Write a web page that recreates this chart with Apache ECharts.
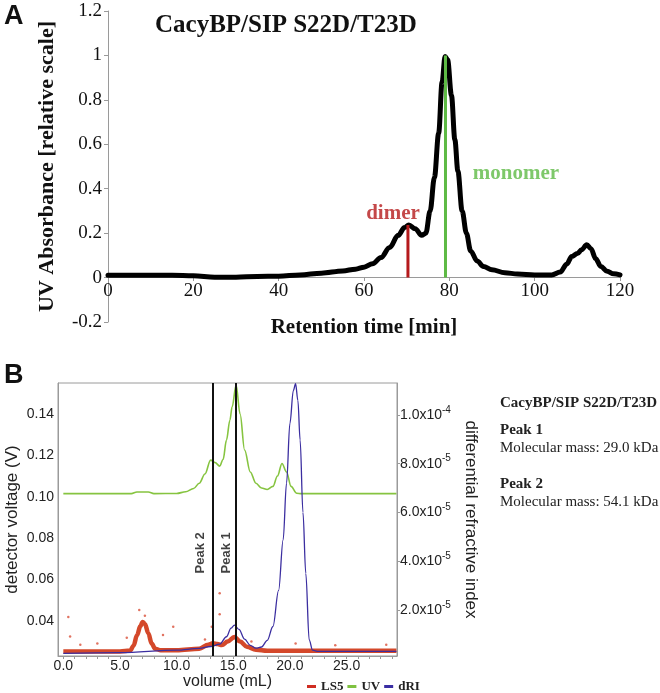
<!DOCTYPE html>
<html>
<head>
<meta charset="utf-8">
<script src="https://cdn.jsdelivr.net/npm/echarts@6/dist/echarts.min.js"></script>
<style>
html,body{margin:0;padding:0;background:#fff;}
#chart{width:660px;height:693px;}
</style>
</head>
<body>
<div id="chart"></div>
<script>
// ---------- Panel A: UV absorbance vs retention time ----------
const aTime = [0,5,10,15,20,25,30,35,40,45,50,55,58,60,62,64,66,68,69.5,70.5,72,73.5,74.5,75.5,76.5,77.5,78.3,79,79.6,80.5,81.3,82,83,84,85,86.5,88,90,93,96,100,104,106,107.5,108.7,110,111,112.2,113.2,114.3,115.5,117,118.5,120];
const aAbs  = [0.01,0.01,0.01,0.01,0.008,0.002,0.002,0.005,0.006,0.012,0.02,0.03,0.038,0.047,0.062,0.09,0.135,0.19,0.225,0.237,0.22,0.19,0.2,0.3,0.45,0.65,0.88,0.995,0.98,0.82,0.62,0.48,0.3,0.2,0.12,0.075,0.05,0.035,0.022,0.016,0.012,0.012,0.025,0.06,0.095,0.108,0.125,0.148,0.13,0.085,0.05,0.028,0.017,0.012];
const dimerTime = 70.3, dimerPeak = 0.237;
const monomerTime = 79.1, monomerPeak = 1.0;
const aLabels = [
  {name:'dimer', t:66.8, v:0.289, color:'#b51a1c'},
  {name:'monomer', t:95.6, v:0.47, color:'#5eba45'}
];

// ---------- Panel B: SEC-MALS traces vs volume ----------
const uvVol = [0,6.0,6.5,7.5,8.0,10.0,10.8,11.5,12.0,12.5,13.0,13.4,13.8,14.1,14.4,14.7,14.9,15.25,15.6,16.0,16.5,17.0,17.5,18.0,18.5,18.9,19.3,19.7,20.1,20.6,21.0,29.4];
const uvVal = [0.1015,0.1015,0.1023,0.1023,0.1015,0.1016,0.1024,0.104,0.1065,0.111,0.1177,0.1165,0.1148,0.118,0.1274,0.137,0.1435,0.154,0.14,0.1226,0.112,0.1065,0.1042,0.1035,0.105,0.11,0.1161,0.112,0.105,0.1017,0.1015,0.1015];

const driVol = [0,5,10,12,13,13.8,14.4,14.8,15.1,15.5,16,16.5,17,17.5,18,18.5,19,19.4,19.7,20.0,20.3,20.5,20.7,20.9,21.15,21.4,21.7,22.0,22.5,29.4];
const driVal = [2.2e-6,2.5e-6,3.5e-6,4.2e-6,5e-6,6e-6,9e-6,1.25e-5,1.38e-5,1.2e-5,8e-6,5.5e-6,4.3e-6,4.8e-6,7.5e-6,1.32e-5,2.8e-5,4.87e-5,7.2e-5,9.66e-5,1.1e-4,1.128e-4,1.06e-4,8.97e-5,6e-5,3.5e-5,7.7e-6,3.5e-6,3e-6,3e-6];

const lsVol = [0,5,5.9,6.2,6.5,6.8,7.0,7.2,7.5,7.8,8.1,8.6,10,12,12.8,13.2,13.6,14.0,14.5,15.1,15.6,16.2,17,18,29.4];
const lsVal = [0.0252,0.0252,0.0256,0.028,0.033,0.0375,0.0395,0.0385,0.034,0.029,0.0265,0.0258,0.0258,0.0265,0.0285,0.0292,0.0288,0.0283,0.030,0.0322,0.030,0.0275,0.026,0.0255,0.0255];
const lsOutVol = [0.44,0.6,5.6,6.7,8.8,9.7,13.1,13.8,13.8,3.0,12.5,16.6,20.5,28.5,7.2,1.5,24.0];
const lsOutVal = [0.0418,0.0324,0.0318,0.0453,0.0332,0.0372,0.0372,0.0534,0.0432,0.029,0.031,0.030,0.029,0.0285,0.0425,0.0285,0.0282];

const peakLines = [{name:'Peak 2', vol:13.18}, {name:'Peak 1', vol:15.2}];
const peakLabelPos = [{name:'Peak 2', vol:12.06, v:0.0729}, {name:'Peak 1', vol:14.42, v:0.0729}];

const bXLabels = [0,5,10,15,20,25];
const bXTicks = [0,1,2,3,4,5,6,7,8,9,10,11,12,13,14,15,16,17,18,19,20,21,22,23,24,25,26,27,28,29];
const bLeftTicks = [0.04,0.06,0.08,0.10,0.12,0.14];
const bRightTicks = [2e-5,4e-5,6e-5,8e-5,1e-4];

const infoLines = [
  {text:'CacyBP/SIP S22D/T23D', bold:true},
  {text:'Peak 1', bold:true},
  {text:'Molecular mass: 29.0 kDa', bold:false},
  {text:'Peak 2', bold:true},
  {text:'Molecular mass: 54.1 kDa', bold:false}
];

const zip = (xs, ys) => xs.map((x, i) => [x, ys[i]]);
const SERIF = 'Liberation Serif';
const SANS = 'Liberation Sans';
const GRAY = '#9a9a9a';

const chart = echarts.init(document.getElementById('chart'), null, {renderer:'canvas'});

const infoY = [405, 432, 450, 486, 504];

const option = {
  animation: false,
  backgroundColor: '#ffffff',
  title: {
    text: 'CacyBP/SIP S22D/T23D',
    left: 150, top: 8,
    textStyle: {fontFamily: SERIF, fontWeight: 'bold', fontSize: 25, color: '#111'}
  },
  legend: {
    data: ['LS5', 'UV', 'dRI'],
    left: 302, top: 675,
    icon: 'rect', itemWidth: 9, itemHeight: 3, itemGap: 4,
    textStyle: {fontFamily: SERIF, fontWeight: 'bold', fontSize: 13, color: '#222'}
  },
  grid: [
    {left: 108, top: 11, width: 512, height: 311, outerBoundsMode: 'none'},
    {left: 58, top: 383, width: 339, height: 273, show: true, borderColor: GRAY, borderWidth: 1, backgroundColor: '#fff', outerBoundsMode: 'none'},
    {left: 108, top: 11, width: 512, height: 266, outerBoundsMode: 'none'}
  ],
  xAxis: [
    {
      gridIndex: 0, type: 'value', min: 0, max: 120, interval: 20, show: false,
      splitLine: {show: false}
    },
    {
      gridIndex: 1, type: 'value', min: -0.47, max: 29.45,
      axisLine: {onZero: false, lineStyle: {color: GRAY, width: 1}},
      axisTick: {customValues: bXTicks, length: 3, lineStyle: {color: GRAY}},
      splitLine: {show: false},
      axisLabel: {customValues: bXLabels, formatter: v => v.toFixed(1), color: '#222', fontFamily: SANS, fontSize: 14, margin: 3},
      name: 'volume (mL)', nameLocation: 'middle', nameGap: 18,
      nameTextStyle: {fontFamily: SANS, fontSize: 16, color: '#222'}
    },
    {
      gridIndex: 2, type: 'value', min: 0, max: 120, interval: 20,
      axisLine: {onZero: false, lineStyle: {color: GRAY, width: 1}},
      axisTick: {length: 4, lineStyle: {color: GRAY}},
      splitLine: {show: false},
      axisLabel: {color: '#111', fontFamily: SERIF, fontSize: 19, margin: 5},
      name: 'Retention time [min]', nameLocation: 'middle', nameGap: 40,
      nameTextStyle: {fontFamily: SERIF, fontWeight: 'bold', fontSize: 21, color: '#111'}
    }
  ],
  yAxis: [
    {
      gridIndex: 0, type: 'value', min: -0.2, max: 1.2, interval: 0.2,
      axisLine: {show: true, onZero: false, lineStyle: {color: GRAY, width: 1}},
      axisTick: {show: true, length: 4, lineStyle: {color: GRAY}},
      splitLine: {show: false},
      axisLabel: {color: '#111', fontFamily: SERIF, fontSize: 19, margin: 6},
      name: 'UV Absorbance [relative scale]', nameLocation: 'middle', nameGap: 50, nameRotate: 90,
      nameTextStyle: {fontFamily: SERIF, fontWeight: 'bold', fontSize: 22, color: '#111'}
    },
    {
      gridIndex: 1, type: 'value', min: 0.023, max: 0.155, position: 'left',
      axisLine: {show: true, onZero: false, lineStyle: {color: GRAY, width: 1}},
      axisTick: {show: false},
      splitLine: {show: false},
      axisLabel: {customValues: bLeftTicks, formatter: v => v.toFixed(2), color: '#222', fontFamily: SANS, fontSize: 14, margin: 4},
      name: 'detector voltage (V)', nameLocation: 'middle', nameGap: 37, nameRotate: 90, nameMoveOverlap: false,
      nameTextStyle: {fontFamily: SANS, fontSize: 17, color: '#222'}
    },
    {
      gridIndex: 1, type: 'value', min: 1.1e-6, max: 1.131e-4, position: 'right',
      axisLine: {show: true, onZero: false, lineStyle: {color: GRAY, width: 1}},
      axisTick: {show: true, customValues: bRightTicks, length: 3, lineStyle: {color: GRAY}},
      splitLine: {show: false},
      axisLabel: {
        customValues: bRightTicks, margin: 3,
        formatter: v => { const s = v.toExponential(1).split('e'); return '{m|' + s[0] + 'x10}{e|' + s[1] + '}'; },
        rich: {
          m: {fontFamily: SANS, fontSize: 14, color: '#222', lineHeight: 20},
          e: {fontFamily: SANS, fontSize: 10, color: '#222', lineHeight: 10, verticalAlign: 'top'}
        }
      },
      name: 'differential refractive index', nameLocation: 'middle', nameGap: 62, nameRotate: -90,
      nameTextStyle: {fontFamily: SANS, fontSize: 17, color: '#222'}
    },
    {
      gridIndex: 2, type: 'value', min: 0, max: 1.2, show: false, splitLine: {show: false}
    }
  ],
  series: [
    {
      name: 'UV absorbance', type: 'line', xAxisIndex: 0, yAxisIndex: 0,
      data: zip(aTime, aAbs), showSymbol: false, smooth: 0.35, smoothMonotone: 'x',
      lineStyle: {color: '#000', width: 5, cap: 'round', join: 'round'}, itemStyle: {color: '#000'}, z: 2
    },
    {
      name: 'dimer line', type: 'line', xAxisIndex: 0, yAxisIndex: 0,
      data: [[dimerTime, 0], [dimerTime, dimerPeak]], showSymbol: false,
      lineStyle: {color: '#b51a1c', width: 3}, z: 3
    },
    {
      name: 'monomer line', type: 'line', xAxisIndex: 0, yAxisIndex: 0,
      data: [[monomerTime, 0], [monomerTime, monomerPeak]], showSymbol: false,
      lineStyle: {color: '#5eba45', width: 3}, z: 3
    },
    {
      name: 'A labels', type: 'scatter', xAxisIndex: 0, yAxisIndex: 0, symbolSize: 0,
      data: aLabels.map(d => ({value: [d.t, d.v], name: d.name,
        label: {show: true, position: 'inside', formatter: d.name, color: d.color,
                fontFamily: SERIF, fontWeight: 'bold', fontSize: 21}})),
      z: 4
    },
    {
      name: 'LS5', type: 'line', xAxisIndex: 1, yAxisIndex: 1,
      data: zip(lsVol, lsVal), showSymbol: false, smooth: 0.35, smoothMonotone: 'x',
      color: '#cf2d22',
      lineStyle: {color: '#d4482a', width: 4.5}, z: 2
    },
    {
      name: 'LS5 outliers', type: 'scatter', xAxisIndex: 1, yAxisIndex: 1,
      data: zip(lsOutVol, lsOutVal), symbolSize: 2.5,
      itemStyle: {color: '#d9503a'}, z: 2
    },
    {
      name: 'UV', type: 'line', xAxisIndex: 1, yAxisIndex: 1,
      data: zip(uvVol, uvVal), showSymbol: false, smooth: 0.35, smoothMonotone: 'x',
      color: '#7fc241',
      lineStyle: {color: '#86c440', width: 1.6}, z: 3
    },
    {
      name: 'dRI', type: 'line', xAxisIndex: 1, yAxisIndex: 2,
      data: zip(driVol, driVal), showSymbol: false, smooth: 0.35, smoothMonotone: 'x',
      color: '#3a2ea3',
      lineStyle: {color: '#3b2ea0', width: 1.3}, z: 3,
      markLine: {
        silent: true, symbol: ['none', 'none'],
        lineStyle: {color: '#111', width: 2, type: 'solid'},
        label: {show: false},
        data: peakLines.map(p => ({xAxis: p.vol, name: p.name}))
      }
    },
    {
      name: 'Peak labels', type: 'scatter', xAxisIndex: 1, yAxisIndex: 1, symbolSize: 0,
      data: peakLabelPos.map(p => ({value: [p.vol, p.v], name: p.name,
        label: {show: true, position: 'inside', rotate: 90, formatter: p.name, color: '#111',
                fontFamily: SANS, fontWeight: 'bold', fontSize: 13}})),
      z: 5
    }
  ],
  graphic: [
    {type: 'text', left: 4, top: 3, style: {text: 'A', fontFamily: SANS, fontWeight: 'bold', fontSize: 27, fill: '#111'}},
    {type: 'text', left: 4, top: 362, style: {text: 'B', fontFamily: SANS, fontWeight: 'bold', fontSize: 27, fill: '#111'}}
  ].concat(infoLines.map((l, i) => ({
    type: 'text', left: 500, top: infoY[i] - 9,
    style: {text: l.text, fontFamily: SERIF, fontWeight: l.bold ? 'bold' : 'normal', fontSize: 15, fill: '#222'}
  })))
};

chart.setOption(option);
</script>
</body>
</html>
